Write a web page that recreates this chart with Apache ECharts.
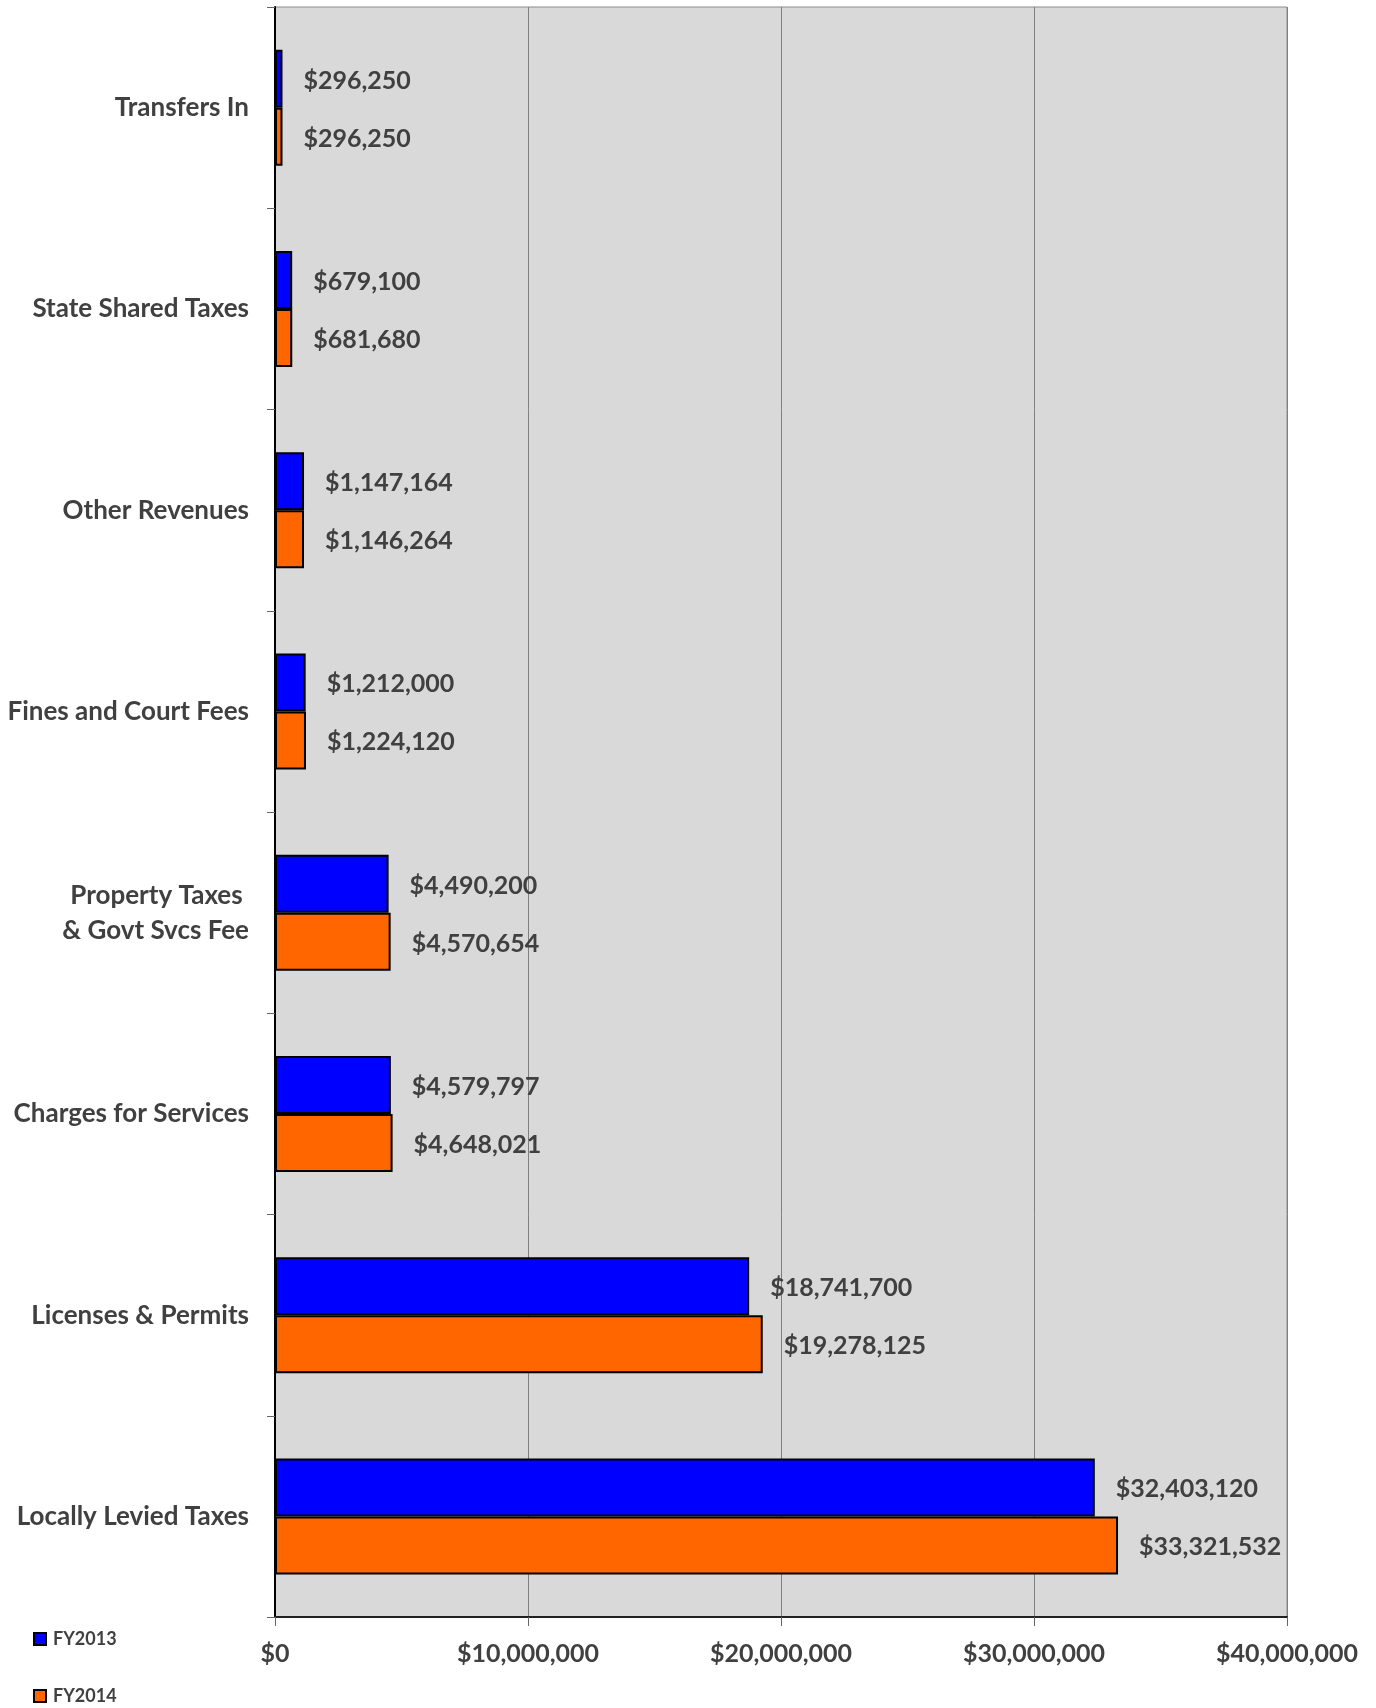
<!DOCTYPE html>
<html>
<head>
<meta charset="utf-8">
<title>General Fund Revenues FY2013 vs FY2014</title>
<script src="https://cdn.jsdelivr.net/npm/echarts@6/dist/echarts.min.js"></script>
<style>
  html, body { margin: 0; padding: 0; background: #ffffff; }
  #chart { width: 1376px; height: 1708px; }
</style>
</head>
<body>
<div id="chart"></div>
<script>
// Revenue categories, listed bottom-to-top as the category axis draws them
const categories = [
  'Locally Levied Taxes',
  'Licenses & Permits',
  'Charges for Services',
  'Property Taxes \n& Govt Svcs Fee',
  'Fines and Court Fees',
  'Other Revenues',
  'State Shared Taxes',
  'Transfers In'
];

const fy2013 = [32403120, 18741700, 4579797, 4490200, 1212000, 1147164, 679100, 296250];
const fy2014 = [33321532, 19278125, 4648021, 4570654, 1224120, 1146264, 681680, 296250];

const xTicks = { min: 0, max: 40000000, step: 10000000 };

const TEXT = '#404040';
const FONT = 'Lato';

function money(v) {
  return '$' + String(Math.round(v)).replace(/\B(?=(\d{3})+(?!\d))/g, ',');
}

function barSeries(name, values, color) {
  return {
    name: name,
    type: 'bar',
    data: values,
    barWidth: 58,
    barGap: '0%',
    itemStyle: { color: color, borderColor: '#000000', borderWidth: 2 },
    label: {
      show: true,
      position: 'right',
      distance: 21,
      offset: [0, 2],
      formatter: p => money(p.value),
      color: TEXT,
      fontFamily: FONT,
      fontWeight: 'bold',
      fontSize: 25
    },
    emphasis: { disabled: true }
  };
}

const chart = echarts.init(document.getElementById('chart'), null, { renderer: 'canvas' });

chart.setOption({
  animation: false,
  backgroundColor: '#ffffff',
  textStyle: { fontFamily: FONT },
  grid: {
    left: 275,
    right: 89,
    top: 7,
    bottom: 91,
    show: true,
    backgroundColor: '#d9d9d9',
    borderColor: '#8c8c8c',
    borderWidth: 1,
    containLabel: false
  },
  legend: {
    orient: 'vertical',
    left: 33,
    top: 1630,
    padding: 0,
    itemWidth: 12,
    itemHeight: 12,
    itemGap: 39,
    icon: 'rect',
    selectedMode: false,
    data: [
      { name: 'FY2013', itemStyle: { borderColor: '#000', borderWidth: 2 } },
      { name: 'FY2014', itemStyle: { borderColor: '#000', borderWidth: 2 } }
    ],
    textStyle: { color: TEXT, fontFamily: FONT, fontWeight: 'bold', fontSize: 18, padding: [0, 0, 0, 2] }
  },
  xAxis: {
    type: 'value',
    min: xTicks.min,
    max: xTicks.max,
    interval: xTicks.step,
    axisLine: { show: true, lineStyle: { color: '#222222', width: 2 } },
    axisTick: { show: true, length: 9, lineStyle: { color: '#666666', width: 1 } },
    splitLine: { show: true, lineStyle: { color: '#7f7f7f', width: 1 } },
    axisLabel: {
      margin: 24,
      formatter: v => money(v),
      color: TEXT,
      fontFamily: FONT,
      fontWeight: 'bold',
      fontSize: 25
    }
  },
  yAxis: {
    type: 'category',
    data: categories,
    axisLine: { show: true, lineStyle: { color: '#000000', width: 2 } },
    axisTick: { show: true, length: 8, lineStyle: { color: '#666666', width: 1 } },
    axisLabel: {
      margin: 26,
      color: TEXT,
      fontFamily: FONT,
      fontWeight: 'bold',
      fontSize: 26,
      lineHeight: 35,
      align: 'right'
    }
  },
  // first series sits at the top of each category band
  series: [
    barSeries('FY2013', fy2013, '#0000ff'),
    barSeries('FY2014', fy2014, '#ff6600')
  ]
});
</script>
</body>
</html>
